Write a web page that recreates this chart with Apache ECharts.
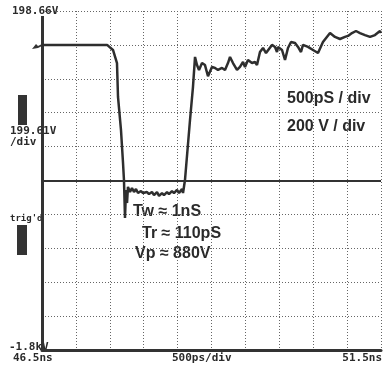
<!DOCTYPE html>
<html><head><meta charset="utf-8">
<script src="https://cdn.jsdelivr.net/npm/echarts@6/dist/echarts.min.js"></script>
<style>html,body{margin:0;padding:0;background:#fff}#c{width:384px;height:366px}</style>
</head><body><div id="c"></div>
<script>
// time axis (ns) and voltage (V)
const timeNs = [46.5, 47.46, 47.547, 47.606, 47.621, 47.665, 47.695, 47.709, 47.724, 47.739, 47.754, 47.768,
  47.798, 47.827, 47.857, 47.886, 47.916, 47.96, 47.99, 48.049, 48.078, 48.122, 48.152, 48.196, 48.226, 48.27,
  48.299, 48.344, 48.373, 48.417, 48.447, 48.491, 48.521, 48.565, 48.58, 48.609, 48.683, 48.727, 48.757, 48.786,
  48.816, 48.86, 48.904, 48.948, 49.007, 49.052, 49.096, 49.155, 49.199, 49.243, 49.273, 49.317, 49.376, 49.42,
  49.465, 49.494, 49.538, 49.597, 49.642, 49.671, 49.715, 49.76, 49.804, 49.848, 49.892, 49.937, 49.966, 49.981,
  50.04, 50.084, 50.128, 50.173, 50.232, 50.276, 50.32, 50.349, 50.423, 50.497, 50.571, 50.644, 50.748, 50.821,
  50.895, 50.969, 51.013, 51.072, 51.131, 51.19, 51.264, 51.338, 51.411, 51.485, 51.5];
const voltV = [0, 0, -30, -107, -307, -502, -697, -797, -1021, -856, -933, -838,
  -868, -844, -868, -850, -874, -862, -874, -868, -880, -868, -886, -868, -891, -874,
  -886, -868, -880, -862, -874, -856, -874, -850, -874, -797, -443, -248, -71, -119,
  -148, -107, -119, -185, -130, -136, -148, -136, -148, -107, -71, -107, -148, -130,
  -101, -130, -89, -107, -101, -119, -42, -18, -48, -24, 0, -12, -42, -12,
  -30, -89, -18, 17, 11, -12, -42, 0, -12, -30, -48, 17, 70, 47,
  35, 47, 53, 70, 82, 70, 58, 47, 58, 82, 70];
const refLevel = -800;
const xMin = 46.5, xMax = 51.5, xStep = 0.5;
const yMin = -1800, yMax = 200, yStep = 200;
const xTickLabels = ['46.5ns', '500ps/div', '51.5ns'];
const yTickLabels = ['198.66V', '199.61V', '/div', '-1.8kV'];
const notesRight = ['500pS / div', '200 V / div'];
const notesPulse = ['Tw \u2248 1nS', 'Tr \u2248 110pS', 'Vp \u2248 880V'];

const chart = echarts.init(document.getElementById('c'));
const mono = {fontFamily: 'DejaVu Sans Mono', fontWeight: 'bold', fontSize: 11, fill: '#2a2a2a'};
const sans = {fontFamily: 'Liberation Sans', fontWeight: 'bold', fontSize: 16, fill: '#2a2a2a'};
const dotted = {type: [1, 2], color: '#666', width: 1};
chart.setOption({
  animation: false,
  backgroundColor: '#fff',
  grid: {left: 42, top: 11, width: 339, height: 339},
  xAxis: {type: 'value', min: xMin, max: xMax, interval: xStep,
    axisLine: {show: true, onZero: false, lineStyle: {color: '#333', width: 3}},
    axisTick: {show: false}, axisLabel: {show: false},
    splitLine: {show: true, lineStyle: dotted}},
  yAxis: {type: 'value', min: yMin, max: yMax, interval: yStep,
    axisLine: {show: true, onZero: false, lineStyle: {color: '#333', width: 3}},
    axisTick: {show: false}, axisLabel: {show: false},
    splitLine: {show: true, lineStyle: dotted}},
  series: [{
    type: 'line', symbol: 'none', clip: true,
    data: timeNs.map((t, i) => [t, voltV[i]]),
    lineStyle: {color: '#2e2e2e', width: 2.5},
    markLine: {silent: true, symbol: 'none', label: {show: false},
      lineStyle: {type: 'solid', color: '#333', width: 2},
      data: [{yAxis: refLevel}]}
  }],
  graphic: [
    {type: 'rect', shape: {x: 39, y: 0, width: 6, height: 16}, style: {fill: '#fff'}, z: 100},
    {type: 'text', left: 12, top: 6, z: 101, style: Object.assign({text: yTickLabels[0]}, mono)},
    {type: 'text', left: 10, top: 126, style: Object.assign({text: yTickLabels[1]}, mono)},
    {type: 'text', left: 10, top: 137, style: Object.assign({text: yTickLabels[2]}, mono)},
    {type: 'text', left: 9, top: 342, style: Object.assign({text: yTickLabels[3]}, mono)},
    {type: 'text', left: 13, top: 353, style: Object.assign({text: xTickLabels[0]}, mono)},
    {type: 'text', left: 172, top: 353, style: Object.assign({text: xTickLabels[1]}, mono)},
    {type: 'text', right: 2, top: 353, style: Object.assign({text: xTickLabels[2]}, mono)},
    {type: 'text', left: 10, top: 214, style: Object.assign({text: "trig'd"}, mono, {fontSize: 9})},
    {type: 'rect', shape: {x: 18, y: 95, width: 9, height: 30}, style: {fill: '#333'}},
    {type: 'rect', shape: {x: 17, y: 225, width: 10, height: 30}, style: {fill: '#333'}},
    {type: 'polygon', shape: {points: [[32, 49], [36, 44], [38, 46], [42, 44], [42, 46], [38, 48]]}, style: {fill: '#333'}},
    {type: 'text', left: 287, top: 91, style: Object.assign({text: notesRight[0]}, sans)},
    {type: 'text', left: 287, top: 119, style: Object.assign({text: notesRight[1]}, sans)},
    {type: 'text', left: 133, top: 204, style: Object.assign({text: notesPulse[0]}, sans)},
    {type: 'text', left: 142, top: 226, style: Object.assign({text: notesPulse[1]}, sans)},
    {type: 'text', left: 135, top: 246, style: Object.assign({text: notesPulse[2]}, sans)}
  ]
});
</script></body></html>
